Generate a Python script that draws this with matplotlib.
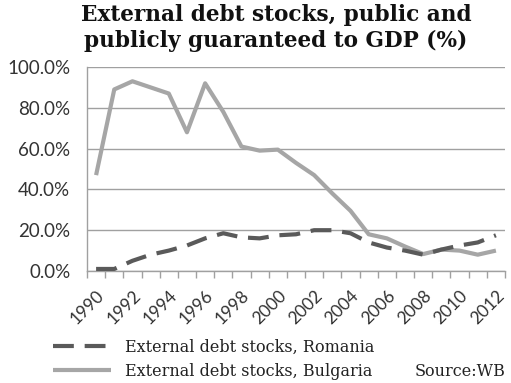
import matplotlib
matplotlib.use("Agg")
import matplotlib.pyplot as plt
from matplotlib.ticker import FuncFormatter
import numpy as np

years = list(range(1990, 2013))
romania = [1, 1, 5, 8, 10, 12.5, 16, 18.5, 16.5, 16, 17.5, 18, 20, 20, 18.5, 14, 11.5, 10, 8, 10.5, 12.5, 14, 17.5]
bulgaria = [47, 89, 93, 90, 87, 68, 92, 78, 61, 59, 59.5, 53, 47, 38, 29.5, 18, 16, 12, 8.3, 10.5, 10, 8, 10]
ytick_vals = [0, 20, 40, 60, 80, 100]

W, H = 511, 383
fig = plt.figure(figsize=(W/100, H/100), dpi=100)
ax = fig.add_axes([87/W, 1-271/H, (505-87)/W, (271-67)/H])

x = np.arange(len(years))
ax.plot(x, romania, color="#5a5a5a", lw=3.0, dashes=(5.0, 2.6), dash_capstyle="butt",
        label="External debt stocks, Romania", zorder=3)
ax.plot(x, bulgaria, color="#a6a6a6", lw=3.0, solid_capstyle="butt",
        label="External debt stocks, Bulgaria", zorder=2)

ax.set_xlim(-0.5, len(years)-0.5)
ax.set_ylim(0, 100)
ax.set_yticks(ytick_vals)
ax.yaxis.set_major_formatter(FuncFormatter(lambda v, p: f"{v:.1f}%"))
ax.grid(axis="y", color="#a0a0a0", lw=1.0)
ax.set_axisbelow(True)
ax.tick_params(axis="y", length=0, pad=12, labelsize=13.5, colors="#333333")

ax.set_xticks(x[::2])
ax.set_xticklabels([str(y) for y in years[::2]], rotation=45, ha="right",
                   rotation_mode="anchor", fontsize=12.5, color="#333333")
ax.set_xticks(np.arange(-0.5, len(years)), minor=True)
ax.tick_params(axis="x", which="major", length=0, pad=12)
ax.tick_params(axis="x", which="minor", length=5, color="#a0a0a0", width=1)

for s in ["top", "right"]:
    ax.spines[s].set_visible(False)
for s in ["left", "bottom"]:
    ax.spines[s].set_color("#a0a0a0")
    ax.spines[s].set_linewidth(1.0)

for lab in ax.get_xticklabels() + ax.get_yticklabels():
    lab.set_fontfamily("Lato")

fig.text(276/W, 1-4/H, "External debt stocks, public and\npublicly guaranteed to GDP (%)",
         ha="center", va="top", fontsize=15.6, fontweight="bold", family="DejaVu Serif",
         linespacing=1.2, color="#111111")

leg = fig.legend(loc="lower left", bbox_to_anchor=(50/W, 0.0), frameon=False,
                 prop={"family": "DejaVu Serif", "size": 11.5}, handlelength=3.6,
                 handletextpad=0.9, labelspacing=0.45, borderaxespad=0.1, borderpad=0.1)
for t in leg.get_texts():
    t.set_color("#222222")

fig.text(505/W, 1-371/H, "Source:WB", ha="right", va="center", fontsize=11.5,
         family="DejaVu Serif", color="#222222")

fig.savefig("out.png", dpi=100)
